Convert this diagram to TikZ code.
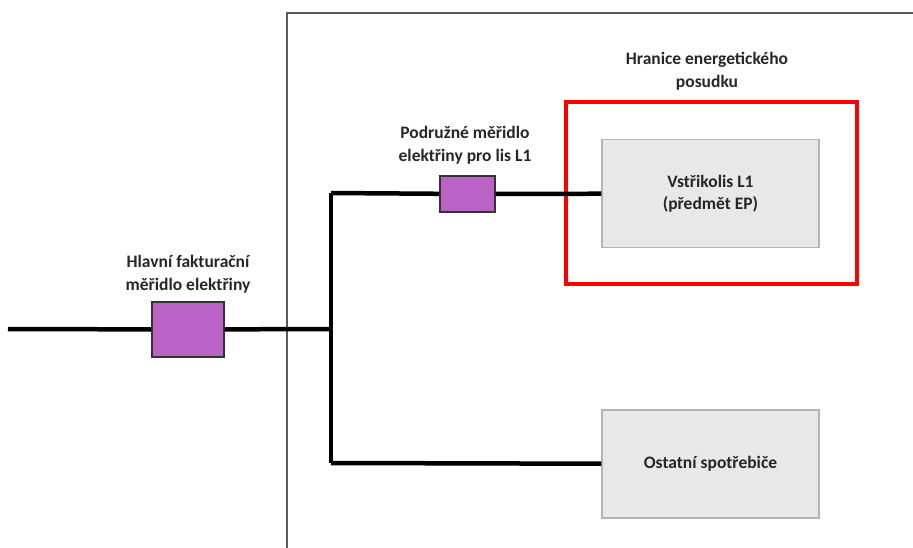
\documentclass[tikz,border=0pt]{standalone}
\usepackage{fontspec}
\setmainfont{Carlito}
\usepackage{tikz}
\usetikzlibrary{calc}

\definecolor{meterfill}{HTML}{BA62C6}
\definecolor{boxfill}{HTML}{E8E8E8}
\definecolor{boxline}{HTML}{B4B4B4}
\definecolor{framegray}{HTML}{5A5A5A}

\begin{document}
\begin{tikzpicture}[x=1pt,y=-1pt,
	wire/.style={line width=4.5pt},
	meter/.style={draw=black!80, fill=meterfill, line width=1.3pt, inner sep=0pt},
	load/.style={draw=boxline, fill=boxfill, line width=1.2pt, inner sep=0pt,
		minimum width=217pt, minimum height=108pt, align=center,
		font=\fontsize{17.5}{22}\selectfont\bfseries, text=black!85},
	lbl/.style={align=center, font=\fontsize{17.5}{22.5}\selectfont\bfseries, text=black!85}]

	\useasboundingbox (0,0) rectangle (913,548);

	% Frame
	\draw[framegray, line width=2.6pt] (913,13) -- (287,13) -- (287,548);

	% Boundary
	\draw[red, line width=4pt] (566,102) rectangle (857,284);
	\node[lbl] (hranice) at (707,71) {Hranice energetického\\posudku};

	% Points
	\coordinate (in) at (8,329);
	\coordinate (bustop) at (331,193);
	\coordinate (busmid) at (331,329);
	\coordinate (busbot) at (331,463);

	% Meters
	\node[meter, minimum width=72pt, minimum height=55pt] (hlavni) at (188,329.5) {};
	\node[meter, minimum width=55pt, minimum height=36pt] (podruzne) at (467.5,194) {};

	% Loads
	\node[load] (lis) at (710.5,193.5) {Vstřikolis L1\\(předmět EP)};
	\node[load] (ostatni) at (710.5,464) {Ostatní spotřebiče};

	% Wires
	\draw[wire] (in) -- (hlavni);
	\draw[wire] (hlavni) -- (busmid);
	\draw[wire] (bustop) -- (busbot);
	\draw[wire] (bustop) -- (podruzne);
	\draw[wire] (podruzne) -- (lis);
	\draw[wire] (busbot) -- (ostatni);

	% Meter labels
	\node[lbl] (hlavnilbl) at (188,274) {Hlavní fakturační\\měřidlo elektřiny};
	\node[lbl] (podruznelbl) at (465,145) {Podružné měřidlo\\elektřiny pro lis L1};
\end{tikzpicture}
\end{document}
